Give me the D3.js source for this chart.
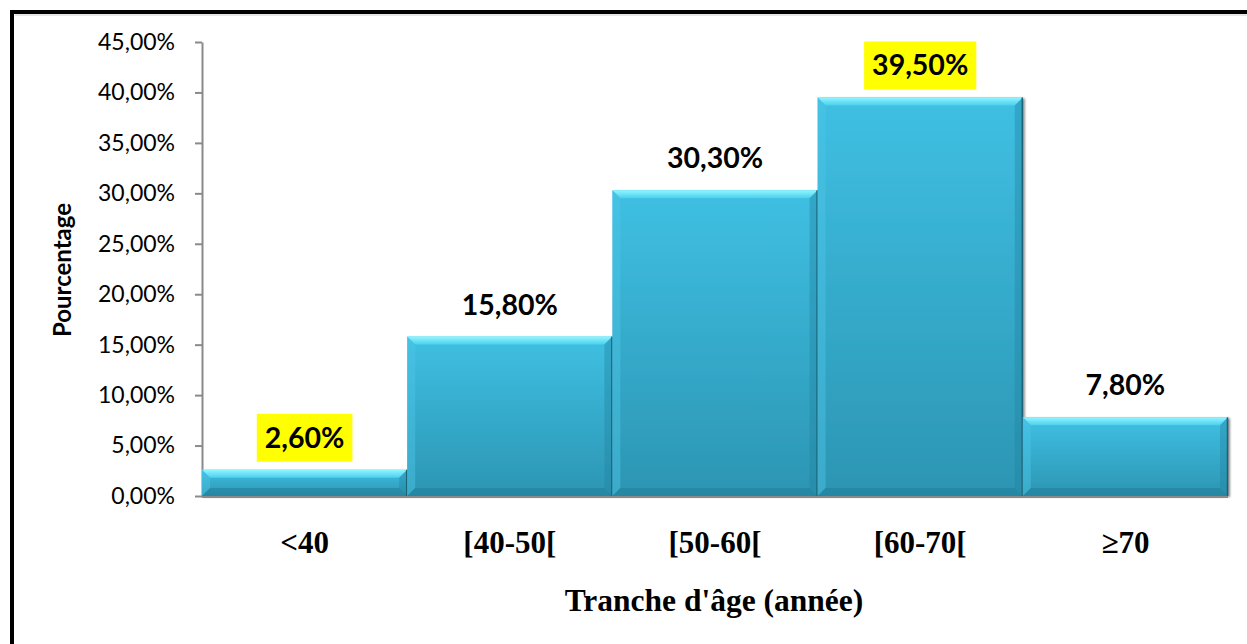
<!DOCTYPE html>
<html><head><meta charset="utf-8">
<script src="https://cdn.jsdelivr.net/npm/d3@7"></script>
<style>html,body{margin:0;padding:0;background:#fff;}svg{display:block;}</style>
</head><body>
<svg id="chart" width="1247" height="644"></svg>
<script>
const categories = ["<40", "[40-50[", "[50-60[", "[60-70[", "≥70"];
const values = [2.6, 15.8, 30.3, 39.5, 7.8];
const valueLabels = ["2,60%", "15,80%", "30,30%", "39,50%", "7,80%"];
const highlighted = [true, false, false, true, false];
const yTicks = [0, 5, 10, 15, 20, 25, 30, 35, 40, 45];
const yTickLabels = ["0,00%", "5,00%", "10,00%", "15,00%", "20,00%", "25,00%", "30,00%", "35,00%", "40,00%", "45,00%"];
const xTitle = "Tranche d'âge (année)";
const yTitle = "Pourcentage";

const svg = d3.select("#chart");
const m = {left: 202, right: 1228, top: 42, bottom: 496};

const x = d3.scaleBand().domain(categories).range([m.left, m.right]).padding(0);
const y = d3.scaleLinear().domain([0, 45]).range([m.bottom, m.top]);

const defs = svg.append("defs");
const gFace = defs.append("linearGradient").attr("id", "face").attr("x1", 0).attr("y1", 0).attr("x2", 0).attr("y2", 1);
gFace.append("stop").attr("offset", "0%").attr("stop-color", "#3fc0e3");
gFace.append("stop").attr("offset", "100%").attr("stop-color", "#2c95b3");
const gTop = defs.append("linearGradient").attr("id", "topb").attr("x1", 0).attr("y1", 0).attr("x2", 0).attr("y2", 1);
gTop.append("stop").attr("offset", "0%").attr("stop-color", "#8ff6ff");
gTop.append("stop").attr("offset", "100%").attr("stop-color", "#4ccfee");
const f = defs.append("filter").attr("id", "sh").attr("x", "-5%").attr("y", "-5%").attr("width", "115%").attr("height", "115%");
f.append("feDropShadow").attr("dx", 2).attr("dy", 1).attr("stdDeviation", 1.2).attr("flood-color", "#000").attr("flood-opacity", 0.45);

// frame
svg.append("rect").attr("x", 12).attr("y", 12).attr("width", 1260).attr("height", 660)
  .attr("fill", "none").attr("stroke", "#000").attr("stroke-width", 4);
svg.append("line").attr("x1", 15).attr("x2", 1247).attr("y1", 15).attr("y2", 15).attr("stroke", "#ccc").attr("stroke-width", 1);

// y axis
const yAxis = d3.axisLeft(y).tickValues(yTicks).tickFormat((d, i) => yTickLabels[i]).tickSizeInner(7).tickSizeOuter(0).tickPadding(20);
const ya = svg.append("g").attr("transform", `translate(${m.left},0)`).call(yAxis);
ya.select(".domain").attr("stroke", "#8a8a8a").attr("stroke-width", 2);
ya.selectAll(".tick line").attr("stroke", "#8a8a8a").attr("stroke-width", 2);
ya.selectAll(".tick text").attr("font-family", "Lato, sans-serif").attr("font-size", 23).attr("fill", "#000");

// bars
const b = 8;
const bars = svg.append("g");
categories.forEach((c, i) => {
  const x0 = x(c), x1 = x(c) + x.bandwidth(), y0 = y(values[i]), y1 = y(0);
  const g = bars.append("g");
  g.append("rect").attr("x", x0).attr("y", y0).attr("width", x1 - x0).attr("height", y1 - y0)
    .attr("fill", "url(#face)").attr("filter", "url(#sh)");
  const poly = (pts, fill, op) => g.append("polygon").attr("points", pts.map(p => p.join(",")).join(" ")).attr("fill", fill).attr("opacity", op);
  poly([[x0, y0], [x1, y0], [x1 - b, y0 + b], [x0 + b, y0 + b]], "url(#topb)", 1);
  poly([[x0, y0], [x0 + b, y0 + b], [x0 + b, y1 - b], [x0, y1]], "#4ec6e6", 0.45);
  poly([[x1, y0], [x1, y1], [x1 - b, y1 - b], [x1 - b, y0 + b]], "#2383a0", 0.4);
  poly([[x0, y1], [x0 + b, y1 - b], [x1 - b, y1 - b], [x1, y1]], "#1f7a94", 0.5);
  g.append("line").attr("x1", x1 - 0.5).attr("x2", x1 - 0.5).attr("y1", y0).attr("y2", y1).attr("stroke", "#1b6478").attr("stroke-width", 1.5);
});

// x axis line
svg.append("line").attr("x1", m.left).attr("x2", m.right).attr("y1", m.bottom + 1).attr("y2", m.bottom + 1)
  .attr("stroke", "#8a8a8a").attr("stroke-width", 2);

// value labels
categories.forEach((c, i) => {
  const cx = x(c) + x.bandwidth() / 2;
  const cy = y(values[i]) - 32;
  const t = svg.append("text").attr("x", cx).attr("y", cy + 10).attr("text-anchor", "middle")
    .attr("font-family", "Lato, sans-serif").attr("font-weight", "bold").attr("font-size", 28.5).attr("fill", "#000")
    .text(valueLabels[i]);
  if (highlighted[i]) {
    const bb = t.node().getBBox();
    svg.insert("rect", () => t.node()).attr("x", cx - bb.width / 2 - 8).attr("y", cy - 24).attr("width", bb.width + 16).attr("height", 48).attr("fill", "#ffff00");
  }
});

// category labels
const xAxis = d3.axisBottom(x).tickSize(0).tickPadding(0);
const xa = svg.append("g").attr("transform", `translate(0,${m.bottom})`).call(xAxis);
xa.select(".domain").remove();
xa.selectAll(".tick text").attr("dy", null).attr("y", 57)
  .attr("font-family", "'Liberation Serif', 'Times New Roman', serif").attr("font-weight", "bold").attr("font-size", 31).attr("fill", "#000");

// titles
svg.append("text").attr("x", 714).attr("y", 611).attr("text-anchor", "middle")
  .attr("font-family", "'Liberation Serif', 'Times New Roman', serif").attr("font-weight", "bold").attr("font-size", 31.5).text(xTitle);
svg.append("text").attr("transform", "translate(71,270) rotate(-90)").attr("text-anchor", "middle")
  .attr("font-family", "Lato, sans-serif").attr("font-weight", "bold").attr("font-size", 24).text(yTitle);
</script>
</body></html>
